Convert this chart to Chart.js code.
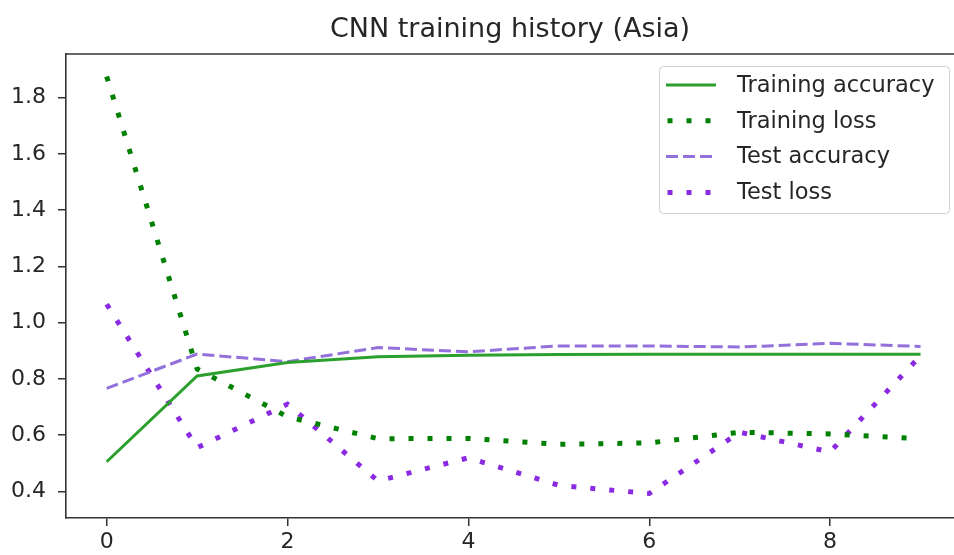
<!DOCTYPE html>
<html lang="en">
<head>
<meta charset="UTF-8" />
<title>CNN training history (Asia)</title>
<script src="https://cdn.jsdelivr.net/npm/chart.js"></script>
<style>
  html, body { margin: 0; padding: 0; background: #fff; overflow: hidden; }
  #wrap { width: 954px; height: 555px; }
</style>
</head>
<body>
<div id="wrap"><canvas id="grafico" width="954" height="555"></canvas></div>
<script>
  // values
  const epochs = [0, 1, 2, 3, 4, 5, 6, 7, 8, 9];
  const trainAcc = [0.505, 0.81, 0.858, 0.878, 0.884, 0.886, 0.887, 0.887, 0.887, 0.887];
  const trainLoss = [1.875, 0.835, 0.665, 0.587, 0.588, 0.567, 0.572, 0.61, 0.604, 0.587];
  const testAcc = [0.766, 0.888, 0.861, 0.911, 0.896, 0.917, 0.917, 0.913, 0.926, 0.915];
  const testLoss = [1.065, 0.555, 0.71, 0.437, 0.519, 0.421, 0.392, 0.61, 0.54, 0.882];
  const xTicks = [0, 2, 4, 6, 8];
  const yTicks = [0.4, 0.6, 0.8, 1.0, 1.2, 1.4, 1.6, 1.8];

  const FONT = "'DejaVu Sans', sans-serif";
  const pts = arr => arr.map((v, i) => ({ x: epochs[i], y: v }));

  // top spine (the plot is cut off on the right, like the original)
  const frame = {
    id: 'frame',
    afterDraw(chart) {
      const { ctx, chartArea: a } = chart;
      ctx.save();
      ctx.strokeStyle = '#333';
      ctx.lineWidth = 1.6;
      ctx.beginPath();
      ctx.moveTo(a.left, a.top);
      ctx.lineTo(a.right, a.top);
      ctx.stroke();
      ctx.restore();
    }
  };

  // matplotlib style legend in the upper right corner
  const boxLegend = {
    id: 'boxLegend',
    afterDraw(chart) {
      const ctx = chart.ctx;
      const x0 = 659, y0 = 66, w = 290, h = 147;
      ctx.save();
      ctx.beginPath();
      ctx.roundRect(x0 + 0.5, y0 + 0.5, w, h, 4);
      ctx.fillStyle = 'rgba(255,255,255,0.8)';
      ctx.fill();
      ctx.strokeStyle = '#d0d0d0';
      ctx.lineWidth = 1;
      ctx.stroke();
      chart.data.datasets.forEach((ds, i) => {
        const y = 85 + i * 35.8;
        ctx.beginPath();
        ctx.strokeStyle = ds.borderColor;
        ctx.lineWidth = ds.borderWidth;
        ctx.setLineDash(ds.borderDash || []);
        ctx.lineCap = 'butt';
        ctx.moveTo(ds.borderDash && ds.borderDash[0] < 8 ? 667.5 : 666, y);
        ctx.lineTo(716, y);
        ctx.stroke();
        ctx.setLineDash([]);
        ctx.fillStyle = '#262626';
        ctx.font = '22.5px ' + FONT;
        ctx.textBaseline = 'middle';
        ctx.fillText(ds.label, 737, y + 1);
      });
      ctx.restore();
    }
  };

  new Chart(document.getElementById('grafico'), {
    type: 'line',
    data: {
      datasets: [
        { label: 'Training accuracy', data: pts(trainAcc), borderColor: '#2ca02c', borderWidth: 3 },
        { label: 'Training loss', data: pts(trainLoss), borderColor: '#008000', borderWidth: 5, borderDash: [5, 14] },
        { label: 'Test accuracy', data: pts(testAcc), borderColor: '#9370DB', borderWidth: 3, borderDash: [12, 5] },
        { label: 'Test loss', data: pts(testLoss), borderColor: '#8A2BE2', borderWidth: 5, borderDash: [5, 14] }
      ]
    },
    options: {
      responsive: false,
      animation: false,
      layout: { padding: 0 },
      elements: { point: { radius: 0 }, line: { tension: 0, borderCapStyle: 'butt' } },
      plugins: {
        legend: { display: false },
        tooltip: { enabled: false },
        title: {
          display: true,
          fullSize: false,
          text: 'CNN training history (Asia)',
          color: '#262626',
          font: { family: FONT, size: 27, weight: 'normal' },
          padding: { top: 14, bottom: 7.6 }
        }
      },
      scales: {
        x: {
          type: 'linear',
          min: -0.45,
          max: 9.37,
          afterBuildTicks: s => { s.ticks = xTicks.map(v => ({ value: v })); },
          afterFit: s => { s.height = 37; },
          ticks: { color: '#262626', font: { family: FONT, size: 22 }, padding: 3, maxRotation: 0, callback: v => String(v) },
          grid: { drawOnChartArea: false, drawTicks: true, tickLength: 8, color: '#333', lineWidth: 1.5 },
          border: { color: '#333', width: 1.6 }
        },
        y: {
          type: 'linear',
          min: 0.305,
          max: 1.955,
          afterBuildTicks: s => { s.ticks = yTicks.map(v => ({ value: v })); },
          afterFit: s => { s.width = 66; },
          ticks: { color: '#262626', font: { family: FONT, size: 22 }, padding: 12, callback: v => v.toFixed(1) },
          grid: { drawOnChartArea: false, drawTicks: true, tickLength: 8, color: '#333', lineWidth: 1.5 },
          border: { color: '#333', width: 1.6 }
        }
      }
    },
    plugins: [frame, boxLegend]
  });
</script>
</body>
</html>
